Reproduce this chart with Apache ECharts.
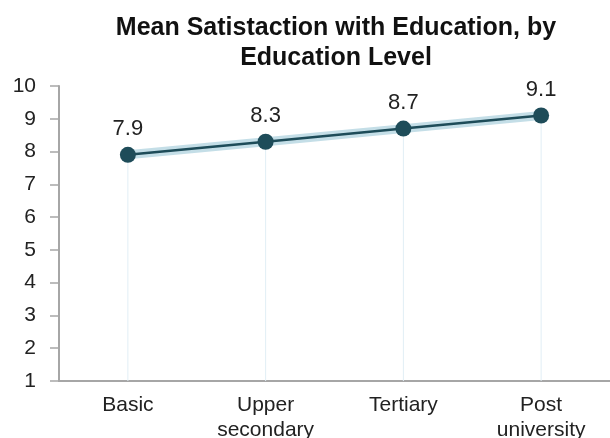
<!DOCTYPE html>
<html>
<head>
<meta charset="utf-8">
<script src="https://cdn.jsdelivr.net/npm/echarts@6/dist/echarts.min.js"></script>
<style>
  html, body { margin: 0; padding: 0; background: #fff; }
  #chart { width: 610px; height: 438px; }
</style>
</head>
<body>
<div id="chart"></div>
<script>
const categories = ['Basic', 'Upper\nsecondary', 'Tertiary', 'Post\nuniversity'];
const satisfaction = [7.9, 8.3, 8.7, 9.1];
const yTicks = [1, 2, 3, 4, 5, 6, 7, 8, 9, 10];

const myChart = echarts.init(document.getElementById('chart'));
const fontFamily = '"Liberation Sans", Arial, sans-serif';

myChart.setOption({
  animation: false,
  title: {
    text: 'Mean Satistaction with Education, by\nEducation Level',
    left: 331,
    top: 8,
    textAlign: 'center',
    textStyle: {
      fontFamily: fontFamily,
      fontSize: 25,
      fontWeight: 'bold',
      color: '#111',
      lineHeight: 30
    }
  },
  grid: { left: 59, right: 0, top: 86, bottom: 57, outerBoundsMode: 'none' },
  xAxis: {
    type: 'category',
    data: categories,
    boundaryGap: true,
    axisLine: { lineStyle: { color: '#a6a6a6', width: 2 } },
    axisTick: { show: false },
    axisLabel: {
      fontFamily: fontFamily,
      fontSize: 21,
      color: '#222',
      margin: 12,
      lineHeight: 25
    }
  },
  yAxis: {
    type: 'value',
    min: yTicks[0],
    max: yTicks[yTicks.length - 1],
    interval: 1,
    axisLine: { show: true, lineStyle: { color: '#a6a6a6', width: 2 } },
    axisTick: { show: true, length: 9, lineStyle: { color: '#a6a6a6', width: 1.5 } },
    splitLine: { show: false },
    axisLabel: {
      fontFamily: fontFamily,
      fontSize: 21,
      color: '#222',
      margin: 23
    }
  },
  series: [
    {
      // faint drop lines
      type: 'bar',
      data: satisfaction,
      barWidth: 1,
      itemStyle: { color: '#e1eef5' },
      silent: true,
      z: 1
    },
    {
      // soft halo behind the line
      type: 'line',
      data: satisfaction,
      symbol: 'none',
      lineStyle: { color: '#b5d6e1', width: 9, opacity: 0.8 },
      silent: true,
      z: 2
    },
    {
      type: 'line',
      data: satisfaction,
      symbol: 'circle',
      symbolSize: 16,
      itemStyle: { color: '#1e4c59' },
      lineStyle: { color: '#1e4c59', width: 2.5 },
      label: {
        show: true,
        position: 'top',
        distance: 7,
        fontFamily: fontFamily,
        fontSize: 22,
        color: '#222',
        formatter: p => p.value.toFixed(1)
      },
      z: 3
    }
  ]
});
</script>
</body>
</html>
